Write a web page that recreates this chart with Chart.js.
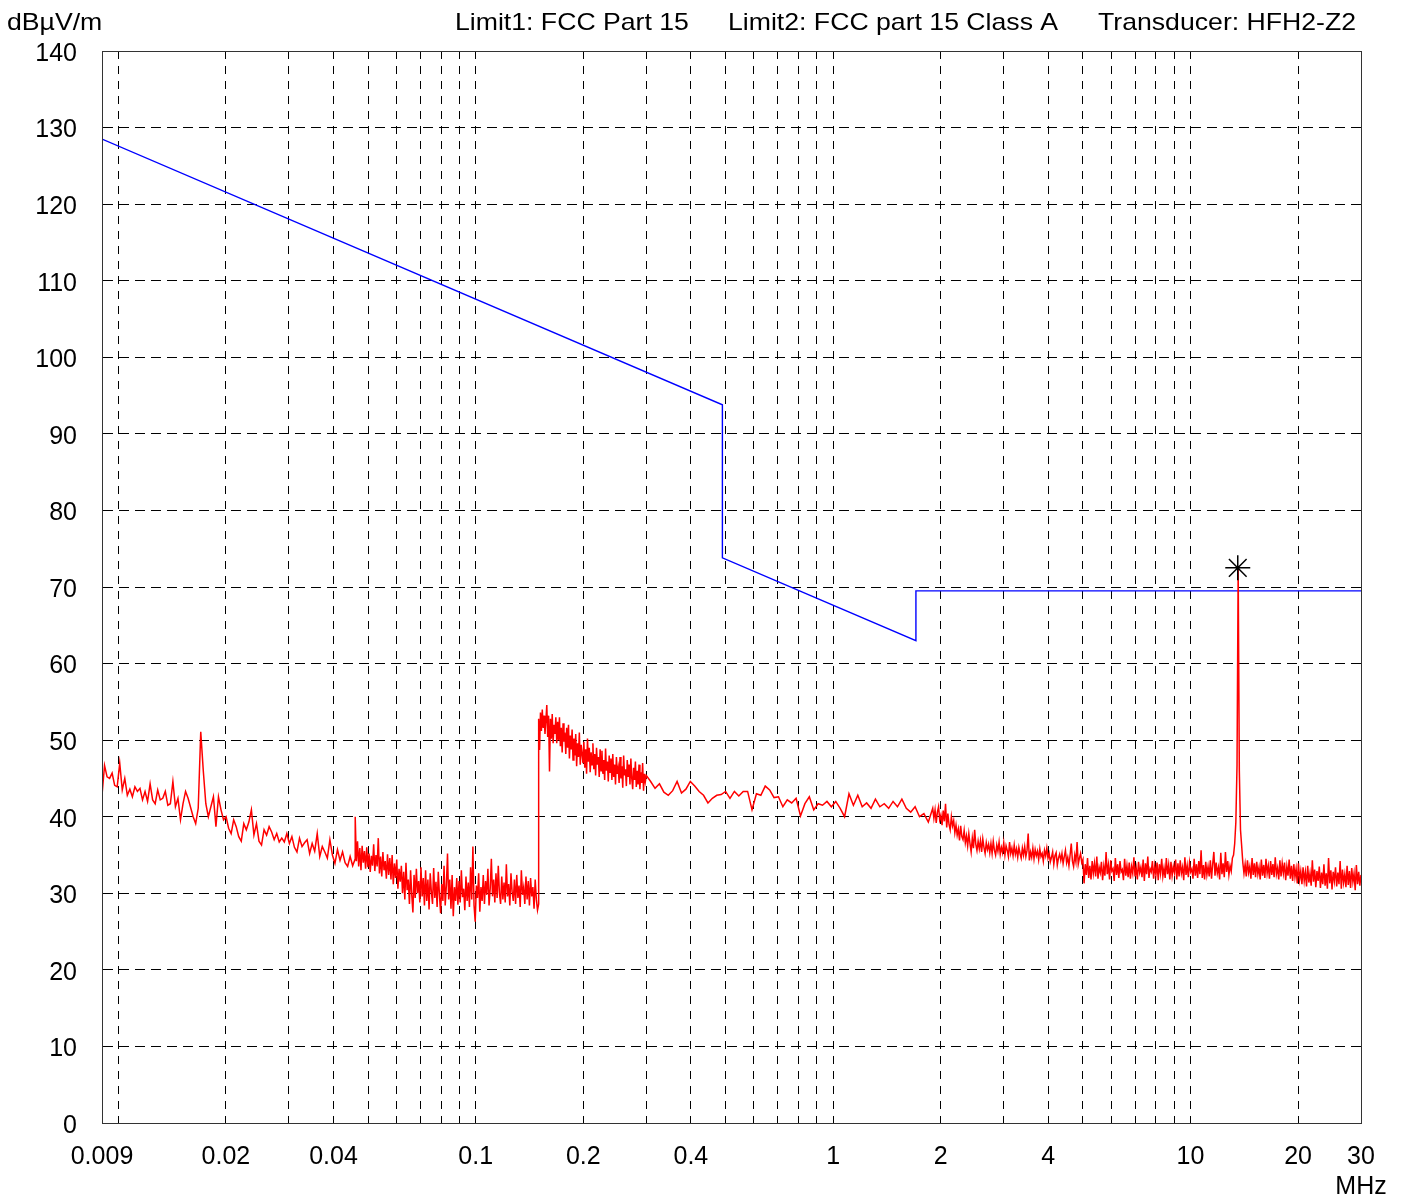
<!DOCTYPE html>
<html>
<head>
<meta charset="utf-8">
<title>Espectro de emisiones radiadas</title>
<script src="https://cdn.jsdelivr.net/npm/chart.js@4.4.1/dist/chart.umd.min.js"></script>
<style>
  body { margin: 0; background: #fff; }
  #wrap { width: 1403px; height: 1195px; }
</style>
</head>
<body>
<div id="wrap"><canvas id="spectrum" width="1403" height="1195"></canvas></div>
<script>
// Textos y marcas de los ejes
const unitLabel = 'dBµV/m';
const headerTexts = ['Limit1: FCC Part 15', 'Limit2: FCC part 15 Class A', 'Transducer: HFH2-Z2'];
const yTicks = [0, 10, 20, 30, 40, 50, 60, 70, 80, 90, 100, 110, 120, 130, 140];
const gridFreqs = [0.009, 0.01, 0.02, 0.03, 0.04, 0.05, 0.06, 0.07, 0.08, 0.09,
                   0.1, 0.2, 0.3, 0.4, 0.5, 0.6, 0.7, 0.8, 0.9,
                   1, 2, 3, 4, 5, 6, 7, 8, 9, 10, 20, 30];
const tickFreqs = [0.009, 0.02, 0.04, 0.1, 0.2, 0.4, 1, 2, 4, 10, 20, 30];
const tickLabels = ['0.009', '0.02', '0.04', '0.1', '0.2', '0.4', '1', '2', '4', '10', '20', ['30', 'MHz']];

// Línea límite (vértices)
const limitFreqs = [0.009, 0.49, 0.49, 1.705, 1.705, 30];
const limitLevels = [128.5, 93.8, 73.8, 63.0, 69.5, 69.5];

// Tramos del barrido (MHz)
const sweepStart = [0.009, 0.046, 0.15, 0.3, 1.9, 5];
const sweepStop = [0.046, 0.15, 0.3, 1.9, 5, 30];

const levels9k = [
  42.8, 46.7, 45.2, 45.0, 45.7, 44.1, 43.9, 47.0, 43.5, 45.0,
  42.8, 43.6, 42.6, 43.9, 43.3, 43.7, 42.2, 43.3, 42.0, 44.3,
  42.2, 41.7, 43.5, 42.2, 42.4, 43.3, 41.5, 41.7, 44.6, 41.3,
  42.4, 39.6, 41.7, 43.3, 42.4, 41.2, 40.0, 39.1, 41.1, 51.1,
  46.0, 41.7, 40.0, 41.3, 42.6, 38.7, 42.6, 40.9, 39.6, 40.0,
  38.5, 37.8, 39.6, 38.7, 37.4, 36.8, 39.1, 38.3, 39.3, 40.9,
  37.6, 39.1, 36.8, 36.3, 38.3, 37.6, 38.7, 38.0, 37.0, 37.8,
  36.7, 37.2, 36.7, 37.8, 36.5, 37.4, 36.0, 35.4, 37.2, 36.1,
  36.6, 37.0, 35.2, 36.5, 35.5, 37.8, 34.8, 36.1, 35.4, 34.6,
  37.0, 35.0, 33.9, 35.7, 34.3, 35.4, 34.0, 33.5, 34.8, 33.6,
  34.5
];

const levels46k = [
  40.0, 34.2, 36.8, 33.5, 35.9, 33.0, 36.2, 34.0, 35.5, 33.2,
  36.0, 33.4, 35.2, 32.8, 34.9, 33.6, 36.4, 32.9, 35.0, 33.5,
  37.2, 32.6, 34.8, 32.2, 35.4, 33.0, 34.2, 31.9, 35.1, 32.4,
  34.6, 31.8, 35.0, 31.2, 33.9, 32.0, 34.4, 30.6, 33.2, 31.5,
  33.6, 30.0, 32.8, 29.2, 34.0, 30.4, 31.8, 28.6, 33.0, 29.8,
  27.5, 32.4, 29.4, 33.2, 30.0, 31.6, 28.8, 33.4, 29.6, 32.0,
  28.4, 33.0, 29.0, 31.8, 27.9, 32.6, 30.2, 28.6, 33.3, 29.4,
  31.5, 28.2, 32.8, 29.8, 27.4, 31.2, 29.0, 33.6, 28.4, 31.0,
  35.2, 29.2, 31.8, 28.0, 32.4, 27.0, 30.8, 29.0, 32.0, 28.5,
  31.6, 28.8, 33.0, 29.5, 30.6, 27.8, 32.2, 29.0, 31.4, 28.2,
  33.4, 29.2, 36.1, 28.4, 26.3, 31.0, 29.4, 32.6, 27.6, 30.8,
  29.0, 32.4, 28.6, 31.6, 29.8, 33.2, 28.4, 30.6, 34.5, 29.6,
  31.8, 28.8, 32.6, 29.4, 33.6, 30.0, 28.6, 32.2, 29.2, 31.4,
  28.8, 33.8, 29.6, 31.2, 28.4, 32.6, 30.2, 29.0, 31.8, 28.6,
  32.4, 29.4, 31.0, 28.2, 33.0, 29.8, 30.8, 28.6, 32.2, 29.2,
  31.6, 28.4, 32.0, 29.6, 30.8, 28.0, 31.8, 29.2, 27.8, 28.6
];

const levels150k = [
  52.8, 48.7, 53.6, 51.2, 54.0, 51.6, 53.2, 50.8, 52.6, 54.6,
  50.4, 53.2, 45.9, 52.8, 50.2, 53.4, 49.6, 52.0, 50.8, 53.0,
  49.6, 52.4, 50.0, 53.0, 49.2, 51.6, 48.4, 52.2, 49.8, 51.0,
  48.2, 51.6, 49.0, 52.0, 47.6, 50.6, 48.8, 51.4, 47.4, 50.2,
  48.0, 50.8, 46.6, 49.6, 47.8, 51.0, 46.8, 49.4, 48.2, 47.0,
  49.8, 46.4, 48.8, 45.6, 50.2, 47.2, 49.0, 45.8, 48.4, 46.8,
  49.6, 46.2, 48.2, 45.4, 49.0, 46.8, 47.8, 45.2, 48.8, 46.0,
  48.6, 45.6, 47.4, 44.8, 48.9, 46.0, 47.2, 44.6, 48.0, 45.8,
  47.6, 44.8, 48.2, 45.2, 46.8, 44.2, 47.8, 45.6, 46.4, 44.4,
  47.8, 45.0, 46.6, 43.8, 48.0, 45.4, 46.2, 44.0, 47.4, 45.2,
  46.8, 44.2, 47.6, 45.0, 43.6, 46.4, 44.8, 47.2, 43.9, 46.0,
  44.2, 46.8, 43.6, 45.8, 44.4, 47.0, 43.4, 45.6, 44.6, 45.4
];

const levels300k = [
  45.4, 44.6, 43.7, 44.3, 43.2, 42.8, 43.4, 44.6, 43.1, 43.6,
  44.6, 44.0, 43.3, 42.8, 41.8, 42.4, 42.8, 42.9, 43.3, 42.4,
  43.3, 42.7, 43.3, 43.3, 40.9, 43.0, 42.8, 44.0, 43.5, 42.5,
  42.6, 41.3, 42.2, 41.8, 42.4, 40.1, 41.7, 42.6, 40.9, 41.7,
  41.5, 42.0, 41.3, 42.0, 41.1, 40.0, 43.0, 41.5, 42.8, 41.3,
  41.8, 41.1, 42.3, 41.3, 41.7, 41.1, 42.0, 41.3, 42.3, 41.1,
  40.6, 41.3, 40.0, 40.4, 39.3, 41.1
];

const levels1m9 = [
  41.1, 39.8, 40.9, 39.2, 40.6, 41.3, 39.6, 40.2, 38.9, 40.8,
  39.4, 41.7, 38.6, 40.4, 39.0, 38.3, 40.0, 38.8, 39.5, 37.9,
  38.9, 37.6, 38.4, 36.9, 38.8, 37.4, 37.0, 38.2, 36.6, 37.5,
  36.2, 37.8, 36.5, 35.4, 37.2, 35.9, 38.3, 36.4, 35.6, 36.8,
  35.8, 36.9, 35.4, 37.1, 36.0, 35.2, 36.6, 35.7, 36.4, 35.3,
  36.5, 35.2, 36.8, 35.6, 35.0, 36.3, 35.5, 36.7, 35.1, 36.0,
  35.3, 36.6, 35.0, 36.2, 35.6, 34.8, 36.7, 35.2, 35.9, 34.9,
  36.3, 35.1, 35.8, 34.7, 36.0, 35.2, 34.6, 35.9, 35.0, 36.1,
  34.8, 35.6, 37.8, 34.3, 35.4, 34.7, 35.9, 34.5, 35.7, 34.9,
  35.5, 34.4, 35.8, 34.8, 35.2, 34.2, 35.6, 34.9, 35.9, 34.6,
  35.2, 34.1, 34.7, 35.4, 33.8, 34.9, 35.3, 33.7, 34.6, 35.1,
  34.3, 35.2, 33.9, 34.8, 35.6, 34.0, 34.7, 33.6, 35.0, 36.5,
  34.2, 33.5, 35.0, 34.1, 36.7, 33.8, 34.6, 35.2, 34.0, 34.4
];

const levels5m = [
  34.3, 31.3, 33.8, 32.4, 34.6, 32.0, 33.6, 31.8, 34.2, 32.6,
  33.9, 32.2, 34.8, 31.9, 33.4, 32.7, 34.1, 31.7, 33.5, 32.3,
  35.4, 32.5, 33.7, 31.8, 34.3, 32.9, 33.2, 31.6, 34.6, 32.4,
  33.8, 32.0, 34.2, 32.8, 33.1, 31.7, 34.5, 32.3, 33.6, 32.1,
  34.0, 31.9, 33.5, 32.6, 34.7, 32.2, 33.3, 31.8, 34.1, 32.7,
  33.4, 32.1, 34.4, 31.6, 33.9, 32.5, 34.8, 32.0, 33.2, 32.8,
  34.2, 31.9, 33.6, 32.4, 34.0, 31.7, 33.8, 32.6, 34.5, 32.2,
  33.3, 32.0, 34.6, 32.5, 33.7, 31.8, 34.1, 32.3, 33.5, 32.7,
  34.4, 31.8, 33.9, 32.2, 34.3, 32.6, 33.4, 31.7, 34.7, 32.4,
  33.6, 32.1, 34.0, 32.8, 33.2, 31.9, 34.5, 32.3, 33.8, 32.0,
  34.2, 32.5, 35.6, 32.0, 33.7, 31.8, 34.1, 32.4, 33.5, 32.2,
  34.3, 31.9, 33.8, 35.4, 32.3, 34.0, 32.6, 33.4, 31.8, 35.3,
  32.5, 33.9, 32.1, 35.4, 32.8, 34.2, 32.4, 33.6, 32.9, 34.6,
  35.0, 36.5, 39.3, 46.7, 72.5, 46.0, 38.3, 36.2, 34.0, 32.6,
  33.8, 32.2, 34.3, 32.7, 33.5, 31.9, 34.6, 32.4, 33.9, 32.1,
  34.1, 32.5, 33.4, 31.8, 34.4, 32.3, 33.7, 32.0, 34.5, 32.6,
  33.6, 31.9, 34.2, 32.4, 33.8, 32.1, 34.7, 32.5, 33.3, 31.8,
  34.3, 32.2, 33.9, 32.6, 34.0, 31.7, 33.5, 32.3, 34.4, 31.9,
  33.6, 31.6, 33.8, 32.1, 33.2, 31.3, 33.9, 31.8, 32.9, 31.2,
  33.4, 31.6, 32.8, 30.9, 33.6, 31.4, 32.6, 31.0, 34.3, 31.5,
  33.1, 30.8, 32.9, 31.6, 33.5, 30.7, 32.7, 31.2, 33.8, 31.0,
  32.6, 30.6, 34.6, 31.3, 33.0, 30.5, 32.8, 31.6, 33.4, 30.9,
  32.7, 31.2, 34.2, 30.6, 33.1, 31.4, 32.5, 30.8, 33.6, 31.1,
  32.9, 30.7, 33.3, 31.5, 32.6, 30.4, 33.7, 31.2, 32.8, 31.0,
  32.4
];

// Marcador del pico máximo
const peakFreqs = [13.56];
const peakLevels = [72.5];

// Cada tramo reparte sus lecturas en pasos logarítmicos iguales
function sweepPoints(f0, f1, levels) {
    const n = levels.length;
    return levels.map((v, i) => ({ x: f0 * Math.pow(f1 / f0, i / (n - 1)), y: v }));
}

const sweepLevels = [levels9k, levels46k, levels150k, levels300k, levels1m9, levels5m];
let tracePoints = [];
sweepLevels.forEach((lv, k) => {
    tracePoints = tracePoints.concat(sweepPoints(sweepStart[k], sweepStop[k], lv));
});

const limitPoints = limitFreqs.map((f, i) => ({ x: f, y: limitLevels[i] }));
const peakPoints = peakFreqs.map((f, i) => ({ x: f, y: peakLevels[i] }));

const FONT = 'Liberation Sans, Arial, Helvetica, sans-serif';
Chart.defaults.font.family = FONT;
Chart.defaults.color = '#000';

// Marco del área y textos de cabecera
const framePlugin = {
    id: 'frame',
    afterDraw(chart) {
        const ctx = chart.ctx;
        const a = chart.chartArea;
        ctx.save();
        ctx.strokeStyle = '#333';
        ctx.lineWidth = 1;
        ctx.strokeRect(a.left + 0.5, a.top + 0.5, a.right - a.left, a.bottom - a.top);

        ctx.fillStyle = '#000';
        ctx.font = '24px ' + FONT;
        ctx.textBaseline = 'alphabetic';
        const xs = [455, 728, 1098];
        const items = [[unitLabel, 7]].concat(headerTexts.map((t, i) => [t, xs[i]]));
        items.forEach(([txt, x]) => {
            ctx.save();
            ctx.translate(x, 30);
            ctx.scale(1.11, 1);
            ctx.fillText(txt, 0, 0);
            ctx.restore();
        });
        ctx.restore();
    }
};

const edgeClear = (edges) => (c) => (c.tick && edges.includes(c.tick.value)) ? 'rgba(0,0,0,0)' : '#000';

new Chart(document.getElementById('spectrum'), {
    type: 'line',
    data: {
        datasets: [
            {
                label: 'Peak',
                data: peakPoints,
                showLine: false,
                pointStyle: 'star',
                pointRadius: 12.5,
                pointBorderColor: '#000',
                pointBorderWidth: 1.5,
                pointBackgroundColor: '#000'
            },
            {
                label: 'Level',
                data: tracePoints,
                borderColor: 'rgb(255, 0, 0)',
                borderWidth: 1.5,
                pointRadius: 0,
                tension: 0
            },
            {
                label: 'Limit',
                data: limitPoints,
                borderColor: 'rgb(0, 0, 255)',
                borderWidth: 1.4,
                pointRadius: 0,
                tension: 0
            }
        ]
    },
    options: {
        responsive: false,
        animation: false,
        devicePixelRatio: 1,
        parsing: false,
        layout: { padding: { left: 0, top: 51, right: 42, bottom: 0 } },
        plugins: { legend: { display: false }, tooltip: { enabled: false } },
        scales: {
            x: {
                type: 'logarithmic',
                min: 0.009,
                max: 30,
                afterBuildTicks: (scale) => { scale.ticks = gridFreqs.map(v => ({ value: v })); },
                afterFit: (scale) => {
                    // el área de trazado la fija el padding del layout
                    scale.height = 72;
                    scale.paddingLeft = 0;
                    scale.paddingRight = 0;
                },
                ticks: {
                    autoSkip: false,
                    maxRotation: 0,
                    minRotation: 0,
                    padding: 19,
                    font: { size: 25 },
                    color: '#000',
                    callback: (value) => {
                        const k = tickFreqs.indexOf(value);
                        return k >= 0 ? tickLabels[k] : '';
                    }
                },
                grid: { color: edgeClear([0.009, 30]), lineWidth: 1, drawTicks: false },
                border: { display: true, color: '#000', width: 1, dash: [8, 7] }
            },
            y: {
                min: 0,
                max: 140,
                afterBuildTicks: (scale) => { scale.ticks = yTicks.map(v => ({ value: v })); },
                afterFit: (scale) => { scale.width = 102; },
                ticks: { padding: 25, labelOffset: 3, font: { size: 25 }, color: '#000' },
                grid: { color: edgeClear([0, 140]), lineWidth: 1, drawTicks: false },
                border: { display: true, color: '#000', width: 1, dash: [10, 6] }
            }
        }
    },
    plugins: [framePlugin]
});
</script>
</body>
</html>
